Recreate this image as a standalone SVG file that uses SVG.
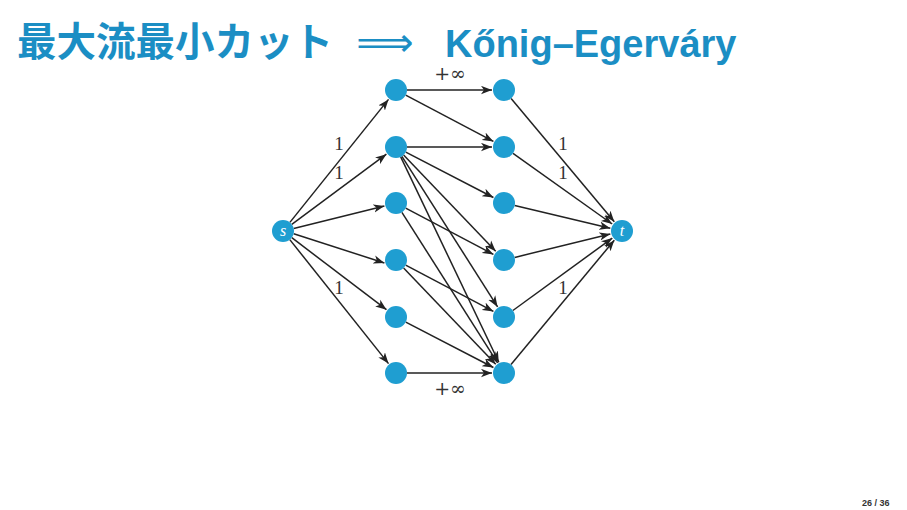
<svg xmlns="http://www.w3.org/2000/svg" width="907" height="510" viewBox="0 0 907 510">
<defs>
<style>
.title{font-family:"Liberation Sans","Noto Sans CJK JP",sans-serif;font-weight:bold;font-size:38px;fill:#1b8ec4}
.jp{font-family:"Noto Sans CJK JP",sans-serif;font-weight:bold;font-size:39.5px;fill:#1b8ec4}
.node{fill:#1f9ed1}
.nl{font-family:"Liberation Serif",serif;font-style:italic;font-size:16px;fill:#fff;text-anchor:middle}
.edge{stroke:#222;stroke-width:1.5;fill:none;marker-end:url(#arr)}
.lbl{font-family:"Liberation Serif","DejaVu Serif",serif;font-size:19px;fill:#333;text-anchor:middle}
.inf{font-family:"DejaVu Serif",serif;font-size:19px;fill:#333;text-anchor:middle}
.pg{font-family:"Liberation Sans",sans-serif;font-size:9px;font-weight:bold;fill:#333}
</style>
<marker id="arr" viewBox="-11 -4.5 12 9" refX="0" refY="0" markerWidth="12" markerHeight="9" markerUnits="userSpaceOnUse" orient="auto">
<path d="M-11,-4.2 L0,0 L-11,4.2 L-8,0 z" fill="#222"/>
</marker>
</defs>
<rect width="907" height="510" fill="#fff"/>
<g id="title">
<text class="jp" x="17" y="56">最大流最小カット</text>
<text x="385" y="56" font-family="DejaVu Sans,sans-serif" font-size="40" fill="#1b8ec4" text-anchor="middle">⟹</text>
<text class="title" x="445" y="57">Kőnig–Egerváry</text>
</g>
<g id="edges">
<line class="edge" x1="289.9" y1="222.4" x2="388.5" y2="99.4"/>
<line class="edge" x1="291.8" y1="224.4" x2="386.4" y2="154.2"/>
<line class="edge" x1="293.7" y1="228.4" x2="384.4" y2="205.9"/>
<line class="edge" x1="293.7" y1="233.7" x2="384.4" y2="263.0"/>
<line class="edge" x1="291.8" y1="237.7" x2="386.5" y2="309.7"/>
<line class="edge" x1="289.8" y1="239.6" x2="388.5" y2="363.6"/>
<line class="edge" x1="407" y1="90" x2="492" y2="90"/>
<line class="edge" x1="405.7" y1="95.1" x2="493.4" y2="141.4"/>
<line class="edge" x1="407" y1="147" x2="492" y2="147"/>
<line class="edge" x1="405.8" y1="152.1" x2="493.4" y2="197.5"/>
<line class="edge" x1="403.6" y1="155.0" x2="495.7" y2="251.3"/>
<line class="edge" x1="401.9" y1="156.3" x2="497.6" y2="306.9"/>
<line class="edge" x1="400.7" y1="156.9" x2="498.8" y2="362.2"/>
<line class="edge" x1="405.7" y1="208.1" x2="493.4" y2="254.4"/>
<line class="edge" x1="401.9" y1="212.3" x2="497.6" y2="362.9"/>
<line class="edge" x1="405.7" y1="265.1" x2="493.4" y2="311.4"/>
<line class="edge" x1="403.6" y1="268.0" x2="495.7" y2="364.3"/>
<line class="edge" x1="405.8" y1="322.1" x2="493.4" y2="367.5"/>
<line class="edge" x1="407" y1="373" x2="492" y2="373"/>
<line class="edge" x1="511.1" y1="98.4" x2="614.3" y2="221.8"/>
<line class="edge" x1="513.0" y1="153.4" x2="612.2" y2="224.0"/>
<line class="edge" x1="514.7" y1="205.5" x2="610.3" y2="228.2"/>
<line class="edge" x1="514.7" y1="257.4" x2="610.3" y2="233.9"/>
<line class="edge" x1="512.9" y1="310.5" x2="612.3" y2="238.1"/>
<line class="edge" x1="511.0" y1="364.5" x2="614.3" y2="240.2"/>
</g>
<g id="labels">
<text class="lbl" x="339" y="150">1</text>
<text class="lbl" x="339" y="179">1</text>
<text class="lbl" x="339" y="294">1</text>
<text class="lbl" x="563" y="150">1</text>
<text class="lbl" x="563" y="179">1</text>
<text class="lbl" x="563" y="294">1</text>
<text class="inf" x="450" y="80">+∞</text>
<text class="inf" x="450" y="395">+∞</text>
</g>
<g id="s"><circle class="node" cx="283" cy="231" r="11"/><text class="nl" x="283" y="236">s</text></g>
<g id="t"><circle class="node" cx="622" cy="231" r="11"/><text class="nl" x="622" y="236">t</text></g>
<g id="l1"><circle class="node" cx="396" cy="90" r="11"/></g>
<g id="l2"><circle class="node" cx="396" cy="147" r="11"/></g>
<g id="l3"><circle class="node" cx="396" cy="203" r="11"/></g>
<g id="l4"><circle class="node" cx="396" cy="260" r="11"/></g>
<g id="l5"><circle class="node" cx="396" cy="317" r="11"/></g>
<g id="l6"><circle class="node" cx="396" cy="373" r="11"/></g>
<g id="r1"><circle class="node" cx="504" cy="90" r="11"/></g>
<g id="r2"><circle class="node" cx="504" cy="147" r="11"/></g>
<g id="r3"><circle class="node" cx="504" cy="203" r="11"/></g>
<g id="r4"><circle class="node" cx="504" cy="260" r="11"/></g>
<g id="r5"><circle class="node" cx="504" cy="317" r="11"/></g>
<g id="r6"><circle class="node" cx="504" cy="373" r="11"/></g>
<text class="pg" x="862" y="506">26 / 36</text>
</svg>
